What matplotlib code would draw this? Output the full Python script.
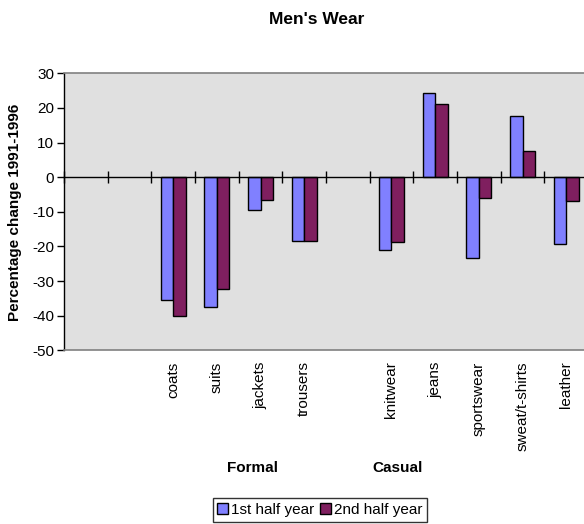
import matplotlib
matplotlib.use("Agg")
import matplotlib.pyplot as plt
import numpy as np

plt.rcParams['font.family'] = ['Liberation Sans', 'DejaVu Sans']
plt.rcParams['axes.unicode_minus'] = False

categories = ["", "", "coats", "suits", "jackets", "trousers", "",
              "knitwear", "jeans", "sportswear", "sweat/t-shirts", "leather"]
first_half = [np.nan, np.nan, -35.4, -37.4, -9.5, -18.4, np.nan,
              -21.1, 24.3, -23.4, 17.6, -19.3]
second_half = [np.nan, np.nan, -40.1, -32.3, -6.5, -18.4, np.nan,
               -18.7, 21.0, -6.1, 7.5, -7.0]
series_names = ["1st half year", "2nd half year"]
group_labels = ["Formal", "Casual"]
title = "Men's Wear"
ylabel = "Percentage change 1991-1996"

W, H = 584, 524
fig = plt.figure(figsize=(W / 100, H / 100), dpi=100)

left, right, top, bottom = 64, 588, 73.3, 350.3
ax = fig.add_axes([left / W, (H - bottom) / H, (right - left) / W, (bottom - top) / H])
ax.set_facecolor("#E0E0E0")

x = np.arange(len(categories))
bw = 0.285
c1, c2 = "#8080FF", "#7F1F5F"
b1 = ax.bar(x - bw / 2, first_half, bw, color=c1, edgecolor="black", linewidth=1, zorder=3,
            label=series_names[0])
b2 = ax.bar(x + bw / 2, second_half, bw, color=c2, edgecolor="black", linewidth=1, zorder=3,
            label=series_names[1])

ax.set_xlim(-0.5, len(categories) - 0.5)
ax.set_ylim(-50, 30)
ax.set_yticks(np.arange(-50, 31, 10))
ax.tick_params(axis="y", direction="out", length=5, width=1, pad=2, labelsize=11, colors="black")

# zero line axis with boundary ticks
ax.spines["bottom"].set_position(("data", 0))
ax.spines["bottom"].set_color("black")
ax.spines["bottom"].set_linewidth(1)
ax.spines["bottom"].set_zorder(4)
ax.set_xticks(np.arange(-0.5, len(categories), 1.0))
ax.tick_params(axis="x", direction="inout", length=8, width=1, labelbottom=False)
ax.spines["left"].set_color("black")
ax.spines["left"].set_linewidth(1)
ax.spines["top"].set_visible(False)
ax.spines["right"].set_visible(False)

# gray frame + category labels via twin axis
ax2 = ax.twiny()
ax2.set_xlim(ax.get_xlim())
ax2.xaxis.set_ticks_position("bottom")
ax2.xaxis.set_label_position("bottom")
ax2.set_xticks(x)
ax2.set_xticklabels(categories, rotation=90, fontsize=11, va="top")
ax2.tick_params(axis="x", length=0, pad=8)
for s in ["top", "right", "bottom"]:
    ax2.spines[s].set_color("#808080")
    ax2.spines[s].set_linewidth(1.2)
ax2.spines["left"].set_visible(False)

fig.text(317 / W, 1 - 20 / H, title, ha="center", va="center", fontsize=12.5, fontweight="bold")
fig.text(15 / W, 1 - 212 / H, ylabel, rotation=90, ha="center", va="center",
         fontsize=11, fontweight="bold")
fig.text(253 / W, 1 - 468 / H, group_labels[0], ha="center", va="center", fontsize=11, fontweight="bold")
fig.text(398 / W, 1 - 468 / H, group_labels[1], ha="center", va="center", fontsize=11, fontweight="bold")

leg = fig.legend(handles=[b1, b2], loc="center", bbox_to_anchor=(320 / W, 1 - 510 / H),
                 ncol=2, fontsize=11, frameon=True, fancybox=False, edgecolor="black",
                 handlelength=0.7, handleheight=0.7, handletextpad=0.2, columnspacing=0.4,
                 borderpad=0.3, borderaxespad=0)
leg.get_frame().set_linewidth(1)

fig.savefig("out.png", dpi=100, facecolor="white")
